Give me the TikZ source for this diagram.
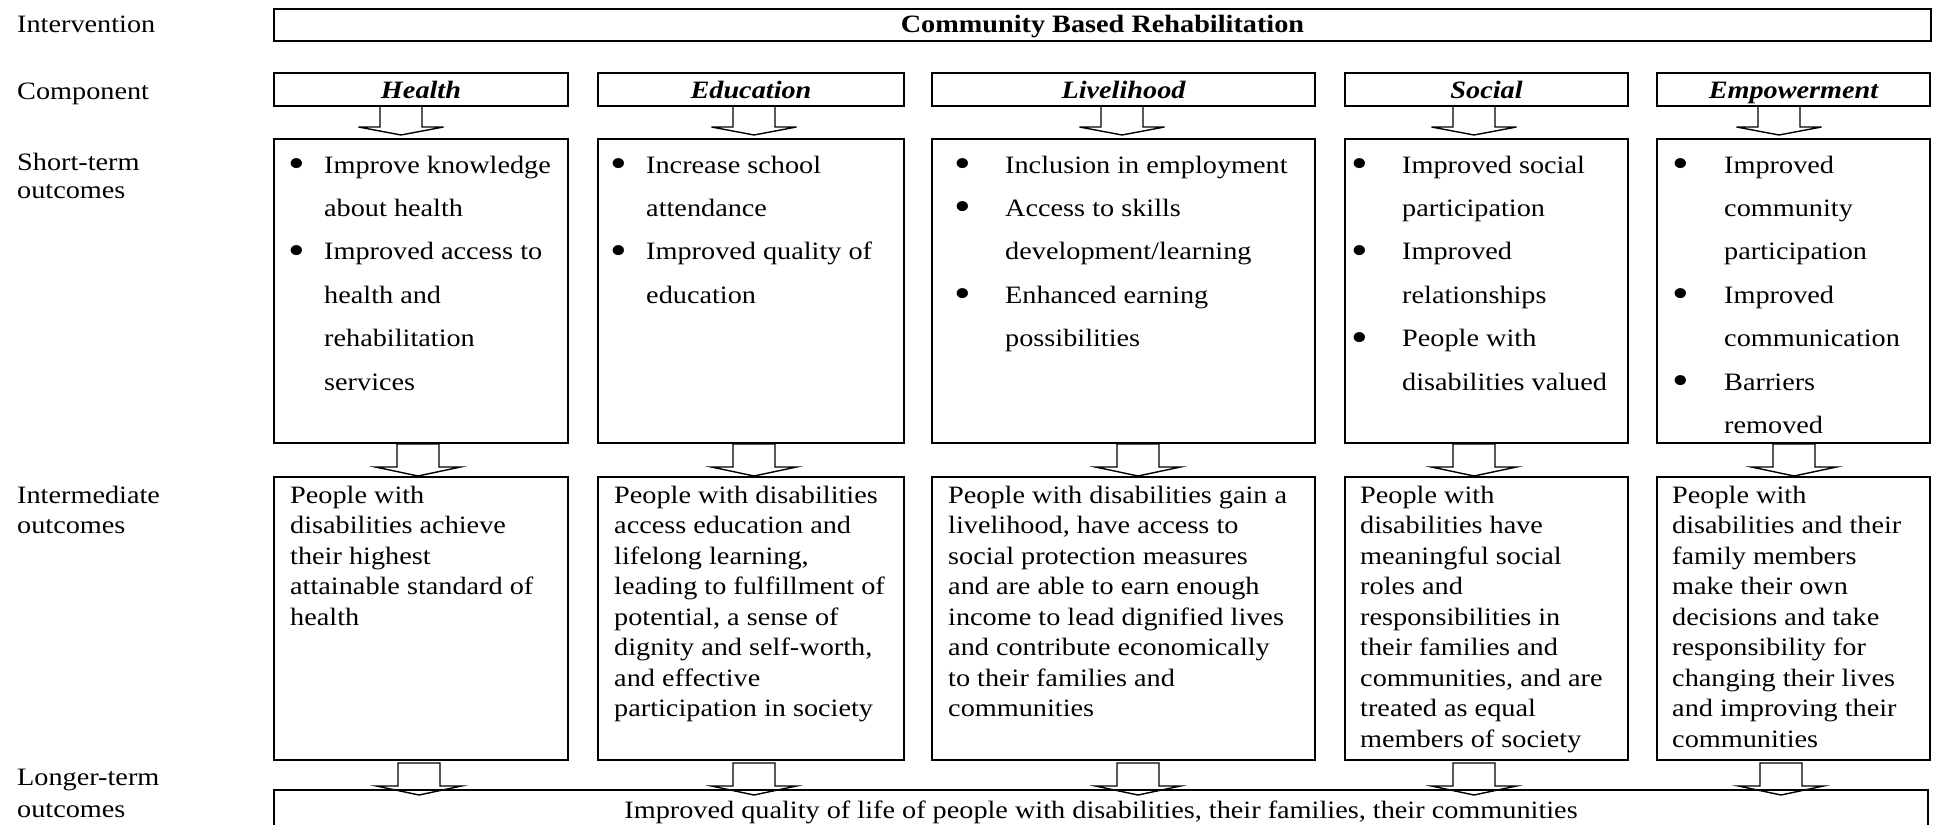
\documentclass[tikz,border=0pt]{standalone}
\usepackage{fontspec}
\setmainfont{Liberation Serif}[FakeStretch=1.13]
\newcommand\bdot{\raisebox{-4.5pt}{\fontsize{42}{0}\selectfont •}}
\newcommand\bitem[2]{\makebox[#1][l]{\bdot}#2}
\newcommand\citem[2]{\hspace*{#1}#2}
\newcommand\barr[5]{% #1 from node, #2 centre x, #3 gap, #4 stem length, #5 head height
  \draw[arr] (#2-21,0 |- #1.south) ++(0,#3) -- ++(0,#4) -- ++(-21.5,0) -- ++(42.5,#5) -- ++(42.5,-#5) -- ++(-21.5,0) -- ++(0,-#4) -- cycle;}
\tikzset{
  box/.style={draw, line width=1.6pt, inner sep=0pt, outer sep=0pt, anchor=north west},
  arr/.style={draw, line width=1.4pt, line join=miter},
  every node/.style={font=\fontsize{25}{30}\selectfont},
  lbl/.style={anchor=base west, inner sep=0pt},
  txt/.style={anchor=base west, inner sep=0pt},
  ttl/.style={anchor=base, inner sep=0pt, font=\fontsize{25}{30}\selectfont\bfseries\itshape},
}
\begin{document}
\begin{tikzpicture}[x=1pt,y=-1pt]
\useasboundingbox (0,0) rectangle (1934,824);

% row labels
\node[lbl] (l1) at (17,33) {Intervention};
\node[lbl] (l2) at (17,100) {Component};
\node[lbl] (l3) at (17,170) {\parbox[t]{200pt}{\fontsize{25}{28}\selectfont Short-term\\outcomes}};
\node[lbl] (l4) at (17,503) {\parbox[t]{200pt}{\fontsize{25}{30}\selectfont Intermediate\\outcomes}};
\node[lbl] (l5) at (17,785) {\parbox[t]{200pt}{\fontsize{25}{32}\selectfont Longer-term\\outcomes}};

% intervention
\node[box, minimum width=1657pt, minimum height=32pt] (iv) at (274,9) {};
\node[ttl, font=\fontsize{25}{30}\selectfont\bfseries] (ivt) at (iv.center |- 0,33) {Community Based Rehabilitation};

% components
\node[box, minimum width=294pt, minimum height=33pt] (hc) at (274,73) {};
\node[box, minimum width=306pt, minimum height=33pt] (ec) at (598,73) {};
\node[box, minimum width=383pt, minimum height=33pt] (lc) at (932,73) {};
\node[box, minimum width=283pt, minimum height=33pt] (sc) at (1345,73) {};
\node[box, minimum width=273pt, minimum height=33pt] (pc) at (1657,73) {};
\node[ttl] (hct) at (hc.center |- 0,99) {Health};
\node[ttl] (ect) at (ec.center |- 0,99) {Education};
\node[ttl] (lct) at (lc.center |- 0,99) {Livelihood};
\node[ttl] (sct) at (sc.center |- 0,99) {Social};
\node[ttl] (pct) at (pc.center |- 0,99) {Empowerment};

% short-term outcomes
\node[box, minimum width=294pt, minimum height=304pt] (hs) at (274,139) {};
\node[box, minimum width=306pt, minimum height=304pt] (es) at (598,139) {};
\node[box, minimum width=383pt, minimum height=304pt] (ls) at (932,139) {};
\node[box, minimum width=283pt, minimum height=304pt] (ss) at (1345,139) {};
\node[box, minimum width=273pt, minimum height=304pt] (ps) at (1657,139) {};

\node[txt] (hst) at (288,173) {\parbox[t]{270pt}{\fontsize{25}{43.4}\selectfont
  \bitem{36pt}{Improve knowledge}\\ \citem{36pt}{about health}\\
  \bitem{36pt}{Improved access to}\\ \citem{36pt}{health and}\\
  \citem{36pt}{rehabilitation}\\ \citem{36pt}{services}}};
\node[txt] (est) at (610,173) {\parbox[t]{290pt}{\fontsize{25}{43.4}\selectfont
  \bitem{36pt}{Increase school}\\ \citem{36pt}{attendance}\\
  \bitem{36pt}{Improved quality of}\\ \citem{36pt}{education}}};
\node[txt] (lst) at (954,173) {\parbox[t]{360pt}{\fontsize{25}{43.4}\selectfont
  \bitem{51pt}{Inclusion in employment}\\
  \bitem{51pt}{Access to skills}\\ \citem{51pt}{development/learning}\\
  \bitem{51pt}{Enhanced earning}\\ \citem{51pt}{possibilities}}};
\node[txt] (sst) at (1351,173) {\parbox[t]{270pt}{\fontsize{25}{43.4}\selectfont
  \bitem{51pt}{Improved social}\\ \citem{51pt}{participation}\\
  \bitem{51pt}{Improved}\\ \citem{51pt}{relationships}\\
  \bitem{51pt}{People with}\\ \citem{51pt}{disabilities valued}}};
\node[txt] (pst) at (1672,173) {\parbox[t]{250pt}{\fontsize{25}{43.4}\selectfont
  \bitem{52pt}{Improved}\\ \citem{52pt}{community}\\ \citem{52pt}{participation}\\
  \bitem{52pt}{Improved}\\ \citem{52pt}{communication}\\
  \bitem{52pt}{Barriers}\\ \citem{52pt}{removed}}};

% intermediate outcomes
\node[box, minimum width=294pt, minimum height=283pt] (hi) at (274,477) {};
\node[box, minimum width=306pt, minimum height=283pt] (ei) at (598,477) {};
\node[box, minimum width=383pt, minimum height=283pt] (li) at (932,477) {};
\node[box, minimum width=283pt, minimum height=283pt] (si) at (1345,477) {};
\node[box, minimum width=273pt, minimum height=283pt] (pi) at (1657,477) {};

\node[txt] (hit) at (290,503) {\parbox[t]{270pt}{\fontsize{25}{30.5}\selectfont
  People with\\ disabilities achieve\\ their highest\\ attainable standard of\\ health}};
\node[txt] (eit) at (614,503) {\parbox[t]{290pt}{\fontsize{25}{30.5}\selectfont
  People with disabilities\\ access education and\\ lifelong learning,\\ leading to fulfillment of\\
  potential, a sense of\\ dignity and self-worth,\\ and effective\\ participation in society}};
\node[txt] (lit) at (948,503) {\parbox[t]{370pt}{\fontsize{25}{30.5}\selectfont
  People with disabilities gain a\\ livelihood, have access to\\ social protection measures\\
  and are able to earn enough\\ income to lead dignified lives\\ and contribute economically\\
  to their families and\\ communities}};
\node[txt] (sit) at (1360,503) {\parbox[t]{270pt}{\fontsize{25}{30.5}\selectfont
  People with\\ disabilities have\\ meaningful social\\ roles and\\ responsibilities in\\
  their families and\\ communities, and are\\ treated as equal\\ members of society}};
\node[txt] (pit) at (1672,503) {\parbox[t]{260pt}{\fontsize{25}{30.5}\selectfont
  People with\\ disabilities and their\\ family members\\ make their own\\ decisions and take\\
  responsibility for\\ changing their lives\\ and improving their\\ communities}};

% longer-term outcome
\node[box, minimum width=1654pt, minimum height=50pt] (lo) at (274,790) {};
\node[txt, anchor=base] (lot) at (lo.center |- 0,818) {Improved quality of life of people with disabilities, their families, their communities};

% block arrows
\barr{hc}{401}{0}{21}{8}
\barr{ec}{754}{0}{21}{8}
\barr{lc}{1122}{0}{21}{8}
\barr{sc}{1474}{0}{21}{8}
\barr{pc}{1779}{0}{21}{8}

\barr{hs}{418}{1}{23}{9}
\barr{es}{754}{1}{23}{9}
\barr{ls}{1138}{1}{23}{9}
\barr{ss}{1474}{1}{23}{9}
\barr{ps}{1794}{1}{23}{9}

\barr{hi}{419}{3}{23}{9}
\barr{ei}{754}{3}{23}{9}
\barr{li}{1138}{3}{23}{9}
\barr{si}{1474}{3}{23}{9}
\barr{pi}{1781}{3}{23}{9}
\end{tikzpicture}
\end{document}
